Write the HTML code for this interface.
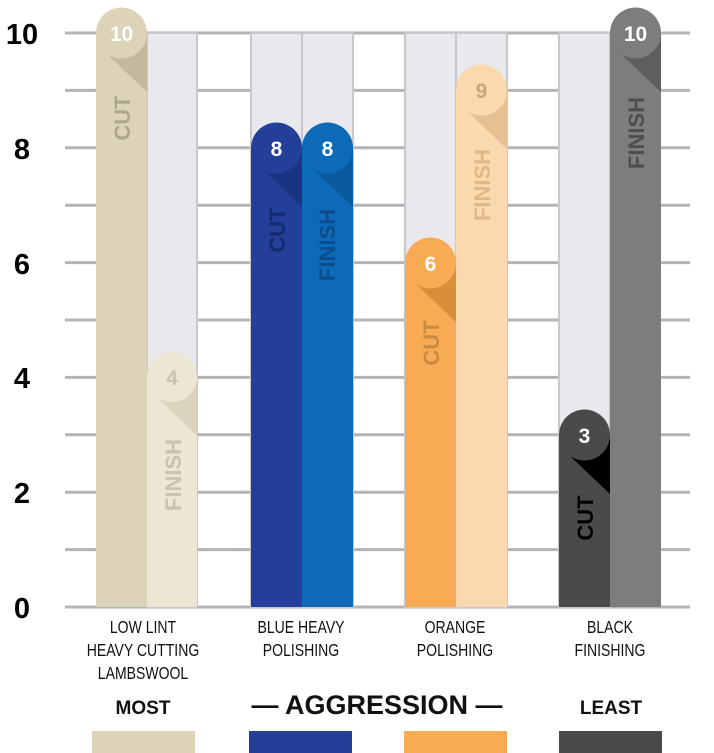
<!DOCTYPE html><html><head><style>body{margin:0;background:#fff}svg{display:block}</style></head><body>
<svg width="714" height="753" viewBox="0 0 714 753" xmlns="http://www.w3.org/2000/svg" font-family="Liberation Sans, sans-serif">
<g stroke="#b4b4b6" stroke-width="3">
<line x1="65" y1="33" x2="690" y2="33"/><line x1="65" y1="90.4" x2="690" y2="90.4"/><line x1="65" y1="147.8" x2="690" y2="147.8"/><line x1="65" y1="205.2" x2="690" y2="205.2"/><line x1="65" y1="262.6" x2="690" y2="262.6"/><line x1="65" y1="320" x2="690" y2="320"/><line x1="65" y1="377.4" x2="690" y2="377.4"/><line x1="65" y1="434.8" x2="690" y2="434.8"/><line x1="65" y1="492.2" x2="690" y2="492.2"/><line x1="65" y1="549.6" x2="690" y2="549.6"/><line x1="65" y1="607" x2="690" y2="607"/>
</g>
<g fill="#e9e9ed" stroke="#c8c8cc" stroke-width="2">
<rect x="147" y="33" width="50" height="574"/>
<rect x="251" y="33" width="51" height="574"/><rect x="302" y="33" width="51" height="574"/>
<rect x="405" y="33" width="51" height="574"/><rect x="456" y="33" width="51" height="574"/>
<rect x="559" y="33" width="51" height="574"/>
</g>
<g font-weight="bold" font-size="29" fill="#000" text-anchor="middle">
<text x="22" y="44">10</text><text x="22" y="159">8</text><text x="22" y="274">6</text><text x="22" y="388">4</text><text x="22" y="503">2</text><text x="22" y="618">0</text>
</g>
<g>
<rect x="96" y="33" width="51" height="574" fill="#dcd3b9"/>
<polygon points="108,55 147,33 147,92" fill="#c3b99c"/><circle cx="121.5" cy="33" r="25.5" fill="#dcd3b9"/>
<rect x="147" y="377" width="50" height="230" fill="#ece6d5"/><polygon points="159,399 197,377 197,436" fill="#dcd3bd"/><circle cx="172" cy="377" r="25" fill="#ece6d5"/>
<rect x="251" y="148" width="51" height="459" fill="#233f99"/><polygon points="263,170 302,148 302,207" fill="#1b3383"/><circle cx="276.5" cy="148" r="25.5" fill="#233f99"/>
<rect x="302" y="148" width="51" height="459" fill="#0c6ab8"/><polygon points="314,170 353,148 353,207" fill="#0a5a9e"/><circle cx="327.5" cy="148" r="25.5" fill="#0c6ab8"/>
<rect x="405" y="263" width="51" height="344" fill="#f8ab52"/><polygon points="417,285 456,263 456,322" fill="#d98e3c"/><circle cx="430.5" cy="263" r="25.5" fill="#f8ab52"/>
<rect x="456" y="90" width="51" height="517" fill="#fbd9ae"/><polygon points="468,112 507,90 507,149" fill="#e4c092"/><circle cx="481.5" cy="90" r="25.5" fill="#fbd9ae"/>
<rect x="559" y="435" width="51" height="172" fill="#4a4a4c"/><polygon points="571,457 610,435 610,494" fill="#000"/><circle cx="584.5" cy="435" r="25.5" fill="#4a4a4c"/>
<rect x="610" y="33" width="51" height="574" fill="#7d7d80"/><polygon points="622,55 661,33 661,92" fill="#5e5e61"/><circle cx="635.5" cy="33" r="25.5" fill="#7d7d80"/>
</g>
<g font-weight="bold" font-size="21" text-anchor="middle">
<text x="121.5" y="41" fill="#fff">10</text>
<text x="172" y="385" fill="#c9c3ae">4</text>
<text x="276.5" y="156" fill="#fff">8</text>
<text x="327.5" y="156" fill="#fff">8</text>
<text x="430.5" y="271" fill="#fff">6</text>
<text x="481.5" y="98" fill="#c8a47a">9</text>
<text x="584.5" y="443" fill="#fff">3</text>
<text x="635.5" y="41" fill="#fff">10</text>
</g>
<g font-weight="bold" font-size="22" text-anchor="middle">
<text transform="translate(130,118) rotate(-90)" fill="#aea790">CUT</text>
<text transform="translate(181,475) rotate(-90)" fill="#c8c2ae">FINISH</text>
<text transform="translate(285,230) rotate(-90)" fill="#14296e">CUT</text>
<text transform="translate(335,245) rotate(-90)" fill="#0a4d8a">FINISH</text>
<text transform="translate(439,343) rotate(-90)" fill="#c88a40">CUT</text>
<text transform="translate(490,185) rotate(-90)" fill="#dfb88a">FINISH</text>
<text transform="translate(593,518) rotate(-90)" fill="#000">CUT</text>
<text transform="translate(644,133) rotate(-90)" fill="#4e4e50">FINISH</text>
</g>
<g font-size="18" fill="#111" text-anchor="middle">
<g transform="translate(143,0) scale(0.78,1)"><text x="0" y="633">LOW LINT</text><text x="0" y="656">HEAVY CUTTING</text><text x="0" y="679">LAMBSWOOL</text></g>
<g transform="translate(301,0) scale(0.78,1)"><text x="0" y="633">BLUE HEAVY</text><text x="0" y="656">POLISHING</text></g>
<g transform="translate(455,0) scale(0.78,1)"><text x="0" y="633">ORANGE</text><text x="0" y="656">POLISHING</text></g>
<g transform="translate(610,0) scale(0.78,1)"><text x="0" y="633">BLACK</text><text x="0" y="656">FINISHING</text></g>
</g>
<g font-weight="bold" fill="#111" text-anchor="middle">
<text x="143" y="714" font-size="19">MOST</text>
<text x="377" y="714" font-size="27">— AGGRESSION —</text>
<text x="611" y="714" font-size="19">LEAST</text>
</g>
<rect x="92" y="731" width="103" height="22" fill="#dcd3b9"/>
<rect x="249" y="731" width="103" height="22" fill="#233f99"/>
<rect x="404" y="731" width="103" height="22" fill="#f8ab52"/>
<rect x="559" y="731" width="103" height="22" fill="#4a4a4c"/>
</svg>
</body></html>
